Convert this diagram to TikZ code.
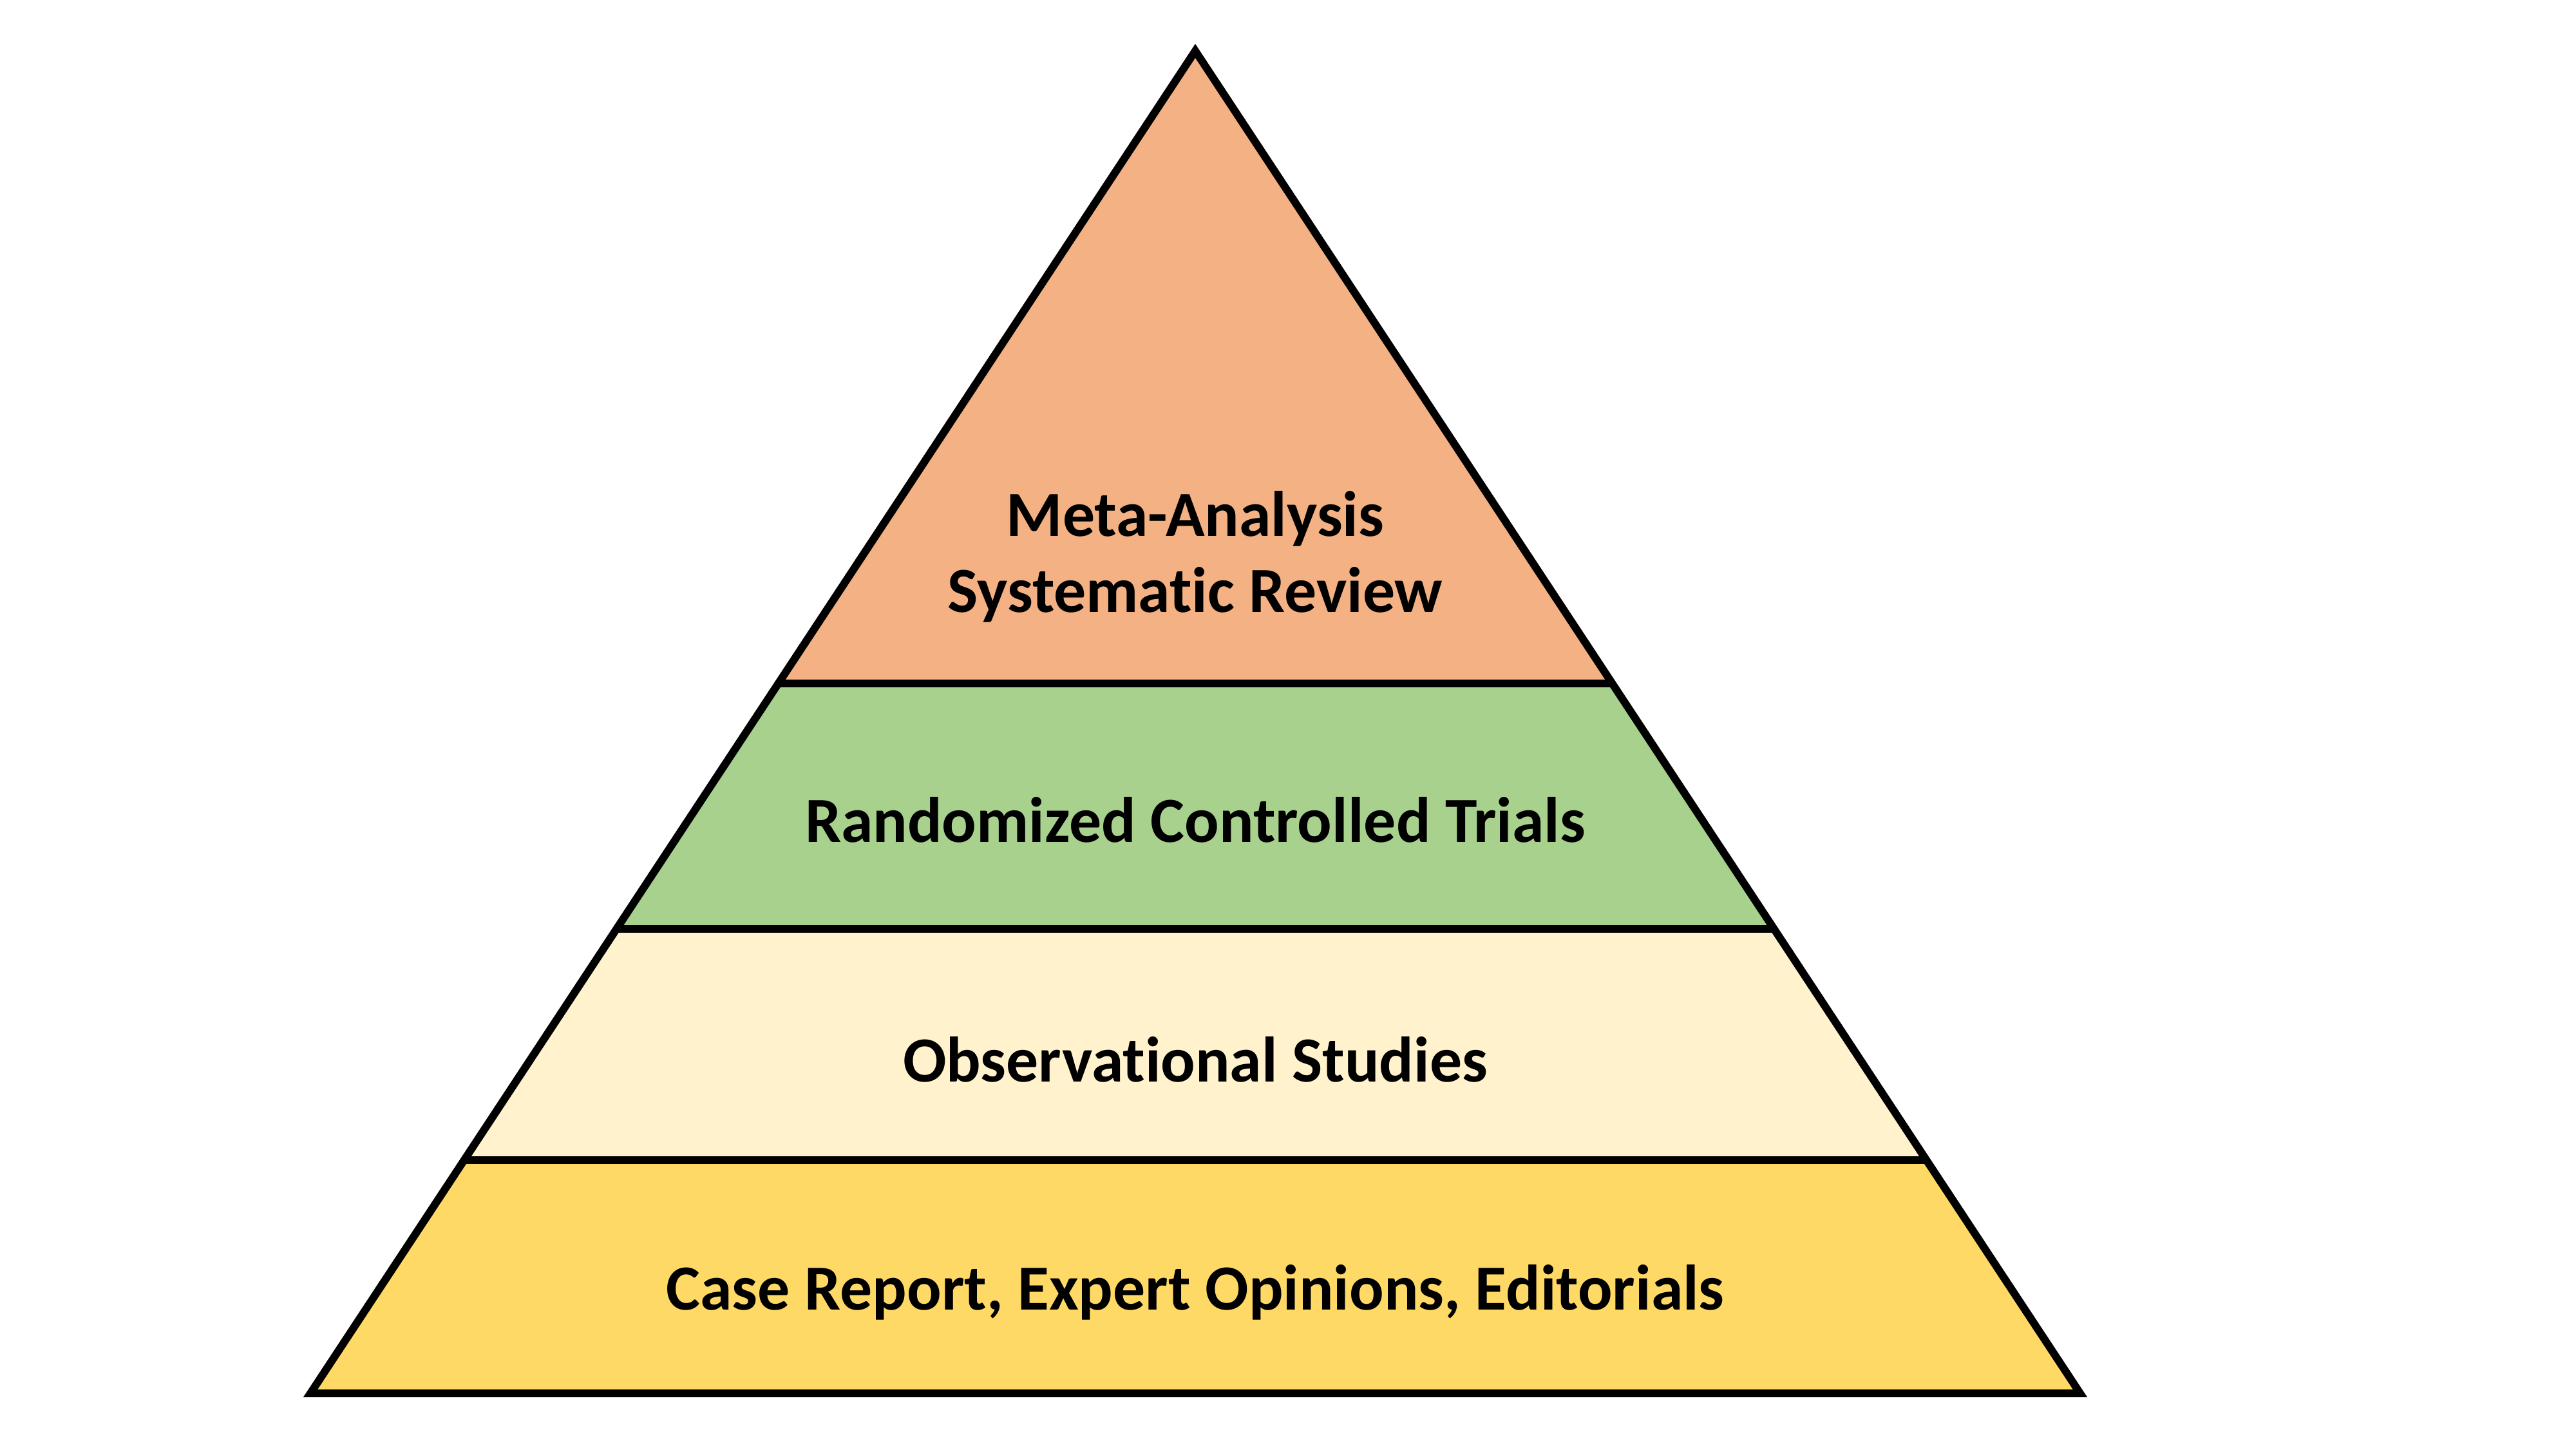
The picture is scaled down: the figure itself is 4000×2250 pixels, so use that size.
\documentclass[tikz,border=0pt]{standalone}
\usepackage{fontspec}
\setmainfont[Ligatures={NoCommon}]{Carlito}
\definecolor{cOrange}{HTML}{F4B183}
\definecolor{cGreen}{HTML}{A9D18E}
\definecolor{cCream}{HTML}{FFF2CC}
\definecolor{cYellow}{HTML}{FFD966}
\begin{document}
\begin{tikzpicture}[x=0.01cm,y=-0.01cm,
  band/.style={draw=black,line width=0.12cm,line join=miter},
  lbl/.style={font=\fontsize{28.4}{33.5}\selectfont\bfseries,align=center,inner sep=0pt}]
\useasboundingbox (0,0) rectangle (4000,2250);
\coordinate (apex) at (1856,79);
\coordinate (l1) at (1209,1061); \coordinate (r1) at (2503,1061);
\coordinate (l2) at (957,1442);  \coordinate (r2) at (2755,1442);
\coordinate (l3) at (721,1801);  \coordinate (r3) at (2991,1801);
\coordinate (l4) at (482,2163);  \coordinate (r4) at (3230,2163);
\fill[cOrange] (apex) -- (r1) -- (l1) -- cycle;
\fill[cGreen] (l1) -- (r1) -- (r2) -- (l2) -- cycle;
\fill[cCream] (l2) -- (r2) -- (r3) -- (l3) -- cycle;
\fill[cYellow] (l3) -- (r3) -- (r4) -- (l4) -- cycle;
\draw[band] (l1) -- (r1);
\draw[band] (l2) -- (r2);
\draw[band] (l3) -- (r3);
\draw[band] (apex) -- (r4) -- (l4) -- cycle;
\node[lbl] (meta) at (1856,864) {Meta-Analysis\\Systematic Review};
\node[lbl] (rct) at (1856,1273) {Randomized Controlled Trials};
\node[lbl] (obs) at (1856,1645) {Observational Studies};
\node[lbl] (case) at (1856,2006) {Case Report, Expert Opinions, Editorials};
\end{tikzpicture}
\end{document}
